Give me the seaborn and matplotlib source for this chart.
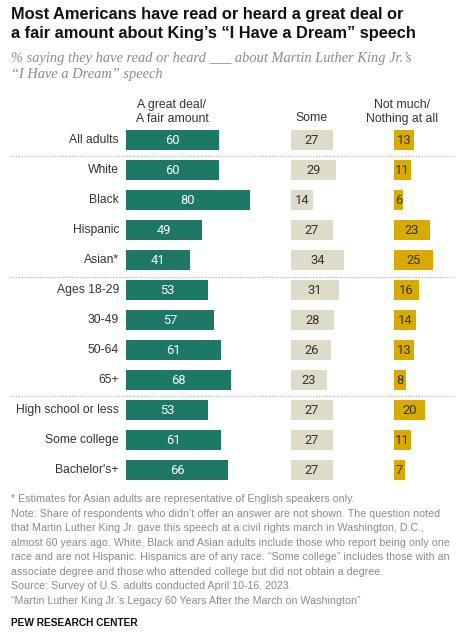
import matplotlib
matplotlib.use("Agg")
import matplotlib.pyplot as plt
import seaborn as sns
import pandas as pd

categories = ["All adults", "White", "Black", "Hispanic", "Asian*", "Ages 18-29",
              "30-49", "50-64", "65+", "High school or less", "Some college", "Bachelor's+"]
great_deal = [60, 60, 80, 49, 41, 53, 57, 61, 68, 53, 61, 66]
some = [27, 29, 14, 27, 34, 31, 28, 26, 23, 27, 27, 27]
not_much = [13, 11, 6, 23, 25, 16, 14, 13, 8, 20, 11, 7]
headers = ["A great deal/\nA fair amount", "Some", "Not much/\nNothing at all"]

sns.set_theme(style="white")
plt.rcParams['font.family'] = ['Liberation Sans', 'DejaVu Sans']

W, H = 460, 632
fig = plt.figure(figsize=(W / 100, H / 100), dpi=100)
fig.patch.set_facecolor("white")

def fx(x):
    return x / W

def fy(y):
    return 1 - y / H

scale = 1.55  # px per unit
row_top, row_bot = 125, 485
cols = [
    (126, 150, great_deal, "#1e7866", "white"),
    (291, 95, some, "#dedbc8", "#333333"),
    (394, 60, not_much, "#d8aa00", "#333333"),
]
df_base = pd.DataFrame({"cat": categories})
for i, (left, width, vals, color, tcolor) in enumerate(cols):
    ax = fig.add_axes([fx(left), fy(row_bot), width / W, (row_bot - row_top) / H])
    d = df_base.copy()
    d["v"] = vals
    sns.barplot(data=d, x="v", y="cat", orient="h", color=color, width=0.66,
                ax=ax, saturation=1, edgecolor="none")
    ax.set_xlim(0, width / scale)
    ax.set_ylim(len(categories) - 0.5, -0.5)
    ax.axis("off")
    ax.bar_label(ax.containers[0], labels=[str(v) for v in vals], label_type="center",
                 color=tcolor, fontsize=9.3, family=["Roboto", "DejaVu Sans"])

# category labels
for i, c in enumerate(categories):
    fig.text(fx(119), fy(140 + 30 * i), c, ha="right", va="center", fontsize=8.7, color="#333333")

# separators
for y in [156, 277, 396]:
    fig.add_artist(plt.Line2D([fx(10), fx(455)], [fy(y), fy(y)], color="#aaaaaa",
                              linestyle=(0, (1, 1.5)), linewidth=0.8))

# headers
fig.text(fx(172), fy(112), headers[0], ha="center", va="center", fontsize=8.8, color="#333333", linespacing=1.15)
fig.text(fx(311), fy(118), headers[1], ha="center", va="center", fontsize=8.8, color="#333333")
fig.text(fx(402), fy(112), headers[2], ha="center", va="center", fontsize=8.8, color="#333333", linespacing=1.15)

# title
fig.text(fx(11), fy(24), "Most Americans have read or heard a great deal or\na fair amount about King\u2019s \u201cI Have a Dream\u201d speech",
         ha="left", va="center", fontsize=11.8, fontweight="bold", color="#111111", linespacing=1.3)
fig.text(fx(11), fy(66.5), "% saying they have read or heard ___ about Martin Luther King Jr.\u2019s\n\u201cI Have a Dream\u201d speech",
         ha="left", va="center", fontsize=10.4, fontstyle="italic", family="Liberation Serif", color="#8a8a8a", linespacing=1.22)

footer = ("* Estimates for Asian adults are representative of English speakers only.\n"
          "Note: Share of respondents who didn\u2019t offer an answer are not shown. The question noted\n"
          "that Martin Luther King Jr. gave this speech at a civil rights march in Washington, D.C.,\n"
          "almost 60 years ago. White, Black and Asian adults include those who report being only one\n"
          "race and are not Hispanic. Hispanics are of any race. \u201cSome college\u201d includes those with an\n"
          "associate degree and those who attended college but did not obtain a degree.\n"
          "Source: Survey of U.S. adults conducted April 10-16, 2023.\n"
          "\u201cMartin Luther King Jr.\u2019s Legacy 60 Years After the March on Washington\u201d")
fig.text(fx(11), fy(550), footer, ha="left", va="center", fontsize=7.65, color="#8a8a8a", linespacing=1.57)
fig.text(fx(11), fy(623), "PEW RESEARCH CENTER", ha="left", va="center", fontsize=7.3, fontweight="bold", color="#111111")

fig.savefig("out.png", dpi=100)
